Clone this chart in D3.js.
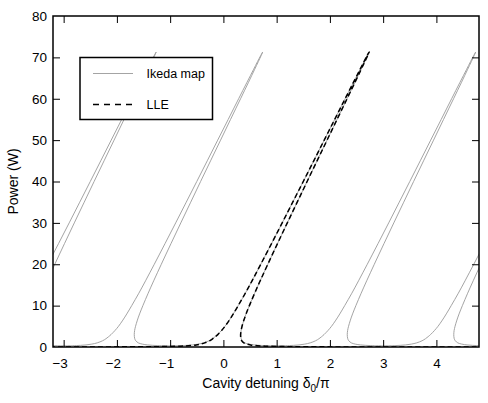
<!DOCTYPE html>
<html><head><meta charset="utf-8">
<script src="https://cdn.jsdelivr.net/npm/d3@7"></script>
<style>
body{margin:0;background:#fff;}
svg{display:block;}
text{font-family:"Liberation Sans",Arial,Helvetica,sans-serif;fill:#000;}
</style>
</head><body>
<svg id="chart" width="488" height="403"></svg>
<script>
// ---- data ----
const xTicks = [-3, -2, -1, 0, 1, 2, 3, 4];
const yTicks = [0, 10, 20, 30, 40, 50, 60, 70, 80];
const legendLabels = ["Ikeda map", "LLE"];

// intracavity power samples (W) shared by every Ikeda resonance branch
const ikedaPower = [0.297, 0.32, 0.35, 0.4, 0.5, 0.7, 1, 1.5, 2, 2.5, 3, 4, 5, 6.5, 8, 10, 13, 16, 20, 25, 30, 35, 40, 45, 50, 55, 60, 64, 67, 69, 70.5, 71.3];

// detuning (units of pi) of the upper (left) and lower/middle (right) branch of each resonance
const ikedaUpperM4 = [-4.989, -4.83, -4.76, -4.68, -4.58, -4.47, -4.37, -4.27, -4.205, -4.155, -4.11, -4.035, -3.97, -3.888, -3.814, -3.722, -3.588, -3.462, -3.298, -3.096, -2.896, -2.698, -2.5, -2.303, -2.107, -1.91, -1.714, -1.556, -1.437, -1.358, -1.297, -1.262];
const ikedaLowerM4 = [-2.989, -3.165, -3.244, -3.326, -3.424, -3.524, -3.598, -3.645, -3.665, -3.672, -3.674, -3.667, -3.65, -3.615, -3.574, -3.512, -3.413, -3.309, -3.166, -2.984, -2.8, -2.614, -2.428, -2.241, -2.053, -1.866, -1.678, -1.528, -1.417, -1.343, -1.289, -1.262];
const ikedaUpperM2 = [-2.989, -2.83, -2.76, -2.68, -2.58, -2.47, -2.37, -2.27, -2.205, -2.155, -2.11, -2.035, -1.97, -1.888, -1.814, -1.722, -1.588, -1.462, -1.298, -1.096, -0.896, -0.698, -0.5, -0.303, -0.107, 0.09, 0.286, 0.444, 0.563, 0.642, 0.703, 0.738];
const ikedaLowerM2 = [-0.989, -1.165, -1.244, -1.326, -1.424, -1.524, -1.598, -1.645, -1.665, -1.672, -1.674, -1.667, -1.65, -1.615, -1.574, -1.512, -1.413, -1.309, -1.166, -0.984, -0.8, -0.614, -0.428, -0.241, -0.053, 0.134, 0.322, 0.472, 0.583, 0.657, 0.711, 0.738];
const ikedaUpper0 = [-0.989, -0.83, -0.76, -0.68, -0.58, -0.47, -0.37, -0.27, -0.205, -0.155, -0.11, -0.035, 0.03, 0.112, 0.186, 0.278, 0.412, 0.538, 0.702, 0.904, 1.104, 1.302, 1.5, 1.697, 1.893, 2.09, 2.286, 2.444, 2.563, 2.642, 2.703, 2.738];
const ikedaLower0 = [1.011, 0.835, 0.756, 0.674, 0.576, 0.476, 0.402, 0.355, 0.335, 0.328, 0.326, 0.333, 0.35, 0.385, 0.426, 0.488, 0.587, 0.691, 0.834, 1.016, 1.2, 1.386, 1.572, 1.759, 1.947, 2.134, 2.322, 2.472, 2.583, 2.657, 2.711, 2.738];
const ikedaUpperP2 = [1.011, 1.17, 1.24, 1.32, 1.42, 1.53, 1.63, 1.73, 1.795, 1.845, 1.89, 1.965, 2.03, 2.112, 2.186, 2.278, 2.412, 2.538, 2.702, 2.904, 3.104, 3.302, 3.5, 3.697, 3.893, 4.09, 4.286, 4.444, 4.563, 4.642, 4.703, 4.738];
const ikedaLowerP2 = [3.011, 2.835, 2.756, 2.674, 2.576, 2.476, 2.402, 2.355, 2.335, 2.328, 2.326, 2.333, 2.35, 2.385, 2.426, 2.488, 2.587, 2.691, 2.834, 3.016, 3.2, 3.386, 3.572, 3.759, 3.947, 4.134, 4.322, 4.472, 4.583, 4.657, 4.711, 4.738];
const ikedaUpperP4 = [3.011, 3.17, 3.24, 3.32, 3.42, 3.53, 3.63, 3.73, 3.795, 3.845, 3.89, 3.965, 4.03, 4.112, 4.186, 4.278, 4.412, 4.538, 4.702, 4.904, 5.104, 5.302, 5.5, 5.697, 5.893, 6.09, 6.286, 6.444, 6.563, 6.642, 6.703, 6.738];
const ikedaLowerP4 = [5.011, 4.835, 4.756, 4.674, 4.576, 4.476, 4.402, 4.355, 4.335, 4.328, 4.326, 4.333, 4.35, 4.385, 4.426, 4.488, 4.587, 4.691, 4.834, 5.016, 5.2, 5.386, 5.572, 5.759, 5.947, 6.134, 6.322, 6.472, 6.583, 6.657, 6.711, 6.738];

// LLE (single resonance)
const llePower = [0.005, 0.01, 0.02, 0.05, 0.1, 0.2, 0.3, 0.5, 0.7, 1, 1.5, 2, 2.5, 3, 4, 5, 6.5, 8, 10, 13, 16, 20, 25, 30, 35, 40, 45, 50, 55, 60, 64, 67, 69, 70.5, 71.3];
const lleUpper = [-4.91, -3.469, -2.452, -1.549, -1.12, -0.8, -0.66, -0.51, -0.43, -0.35, -0.26, -0.2, -0.15, -0.105, -0.033, 0.03, 0.112, 0.186, 0.278, 0.412, 0.538, 0.702, 0.904, 1.104, 1.302, 1.5, 1.697, 1.893, 2.09, 2.286, 2.444, 2.563, 2.642, 2.703, 2.738];
const lleLower = [4.91, 3.469, 2.457, 1.553, 1.1, 0.783, 0.644, 0.508, 0.44, 0.383, 0.345, 0.329, 0.324, 0.323, 0.333, 0.35, 0.385, 0.426, 0.488, 0.587, 0.691, 0.834, 1.016, 1.2, 1.386, 1.572, 1.759, 1.947, 2.134, 2.322, 2.472, 2.583, 2.657, 2.711, 2.738];

// ---- layout ----
const W = 488, H = 403;
const m = {left: 53, right: 9, top: 16, bottom: 56};
const iw = W - m.left - m.right, ih = H - m.top - m.bottom;

const svg = d3.select("#chart");
const g = svg.append("g").attr("transform", `translate(${m.left},${m.top})`);

const x = d3.scaleLinear().domain([-3.2, 4.8]).range([0, iw]);
const y = d3.scaleLinear().domain([0, 80]).range([ih, 0]);

svg.append("defs").append("clipPath").attr("id", "clip")
  .append("rect").attr("x", 0).attr("y", 0).attr("width", iw).attr("height", ih);

const line = d3.line().x(d => x(d[0])).y(d => y(d[1])).curve(d3.curveCatmullRom.alpha(0.5));

function branchPath(upperX, lowerX, power) {
  const pts = upperX.map((v, i) => [v, power[i]]);
  for (let i = lowerX.length - 2; i >= 0; i--) pts.push([lowerX[i], power[i]]);
  return pts;
}

const plot = g.append("g").attr("clip-path", "url(#clip)");

const ikedaSets = [
  [ikedaUpperM4, ikedaLowerM4],
  [ikedaUpperM2, ikedaLowerM2],
  [ikedaUpper0, ikedaLower0],
  [ikedaUpperP2, ikedaLowerP2],
  [ikedaUpperP4, ikedaLowerP4]
];
ikedaSets.forEach(([u, l]) => {
  plot.append("path").datum(branchPath(u, l, ikedaPower))
    .attr("d", line).attr("fill", "none")
    .attr("stroke", "#9a9a9a").attr("stroke-width", 0.9);
});

plot.append("path").datum(branchPath(lleUpper, lleLower, llePower))
  .attr("d", line).attr("fill", "none")
  .attr("stroke", "#000").attr("stroke-width", 1.5)
  .attr("stroke-dasharray", "5,3");

// ---- axes (inward ticks on all sides) ----
const fmt = d => d < 0 ? "\u2212" + Math.abs(d) : String(d);
const tickLen = 7;

const xb = g.append("g").attr("transform", `translate(0,${ih})`)
  .call(d3.axisBottom(x).tickValues(xTicks).tickFormat(fmt).tickSizeInner(-tickLen).tickSizeOuter(0).tickPadding(11));
const xt = g.append("g")
  .call(d3.axisTop(x).tickValues(xTicks).tickFormat("").tickSizeInner(-tickLen).tickSizeOuter(0));
const yl = g.append("g")
  .call(d3.axisLeft(y).tickValues(yTicks).tickFormat(fmt).tickSizeInner(-tickLen).tickSizeOuter(0).tickPadding(6));
const yr = g.append("g").attr("transform", `translate(${iw},0)`)
  .call(d3.axisRight(y).tickValues(yTicks).tickFormat("").tickSizeInner(-tickLen).tickSizeOuter(0));

[xb, xt, yl, yr].forEach(a => {
  a.select(".domain").remove();
  a.selectAll(".tick line").attr("stroke", "#000").attr("stroke-width", 1);
  a.selectAll(".tick text").style("font-size", "13.5px").attr("fill", "#000");
});
// keep the digit centred under the tick; the minus sign hangs to the left
xb.selectAll(".tick text").filter(d => d < 0).attr("dx", "-4");
yl.selectAll(".tick").filter(d => d === 0 || d === 80).select("line").remove();
yr.selectAll(".tick").filter(d => d === 0 || d === 80).select("line").remove();

g.append("rect").attr("x", 0).attr("y", 0).attr("width", iw).attr("height", ih)
  .attr("fill", "none").attr("stroke", "#000").attr("stroke-width", 1.5);

// axis titles
const xt2 = svg.append("text").attr("x", m.left + iw / 2).attr("y", 388)
  .attr("text-anchor", "middle").style("font-size", "14px");
xt2.append("tspan").text("Cavity detuning \u03B4");
xt2.append("tspan").text("0").attr("dy", 4).style("font-size", "10px");
xt2.append("tspan").text("/\u03C0").attr("dy", -4);

svg.append("text").attr("transform", `translate(18,${m.top + ih / 2}) rotate(-90)`)
  .attr("text-anchor", "middle").style("font-size", "14px").text("Power (W)");

// ---- legend ----
const lg = svg.append("g");
lg.append("rect").attr("x", 80).attr("y", 57.5).attr("width", 132.5).attr("height", 62)
  .attr("fill", "#fff").attr("stroke", "#000").attr("stroke-width", 1.5);
const legendStyles = [
  {stroke: "#9a9a9a", width: 0.9, dash: null},
  {stroke: "#000", width: 1.5, dash: "6,5"}
];
legendLabels.forEach((lab, i) => {
  const yy = 73.5 + i * 31;
  lg.append("line").attr("x1", 93).attr("x2", 133).attr("y1", yy).attr("y2", yy)
    .attr("stroke", legendStyles[i].stroke).attr("stroke-width", legendStyles[i].width)
    .attr("stroke-dasharray", legendStyles[i].dash);
  lg.append("text").attr("x", 146.5).attr("y", yy + 4.5).style("font-size", "12.5px").text(lab);
});
</script>
</body></html>
